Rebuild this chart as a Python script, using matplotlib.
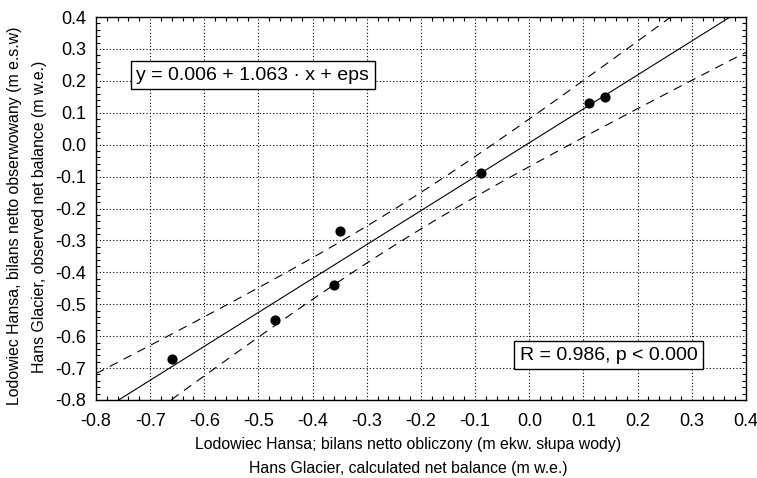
import numpy as np
import matplotlib
matplotlib.use("Agg")
import matplotlib.pyplot as plt
from matplotlib.ticker import MultipleLocator

# Data
calc = [-0.66, -0.47, -0.36, -0.35, -0.09, 0.11, 0.14]
obs = [-0.672, -0.549, -0.440, -0.270, -0.088, 0.132, 0.150]
intercept = 0.006
slope = 1.063
t_crit = 2.571  # 95% two-sided, df = 5

xticks = [-0.8, -0.7, -0.6, -0.5, -0.4, -0.3, -0.2, -0.1, 0.0, 0.1, 0.2, 0.3, 0.4]
yticks = [-0.8, -0.7, -0.6, -0.5, -0.4, -0.3, -0.2, -0.1, 0.0, 0.1, 0.2, 0.3, 0.4]

plt.rcParams['font.family'] = ['Liberation Sans', 'DejaVu Sans']

fig = plt.figure(figsize=(7.57, 4.78), dpi=100)
ax = fig.add_axes([96/757, 1 - 400/478, 650/757, 383/478])

x = np.array(calc)
y = np.array(obs)
n = len(x)
resid = y - (intercept + slope * x)
s = np.sqrt(np.sum(resid**2) / (n - 2))
xm = x.mean()
sxx = np.sum((x - xm)**2)
xx = np.linspace(-0.8, 0.4, 200)
yy = intercept + slope * xx
hw = t_crit * s * np.sqrt(1 / n + (xx - xm)**2 / sxx)

ax.plot(xx, yy, color='black', lw=0.8)
ax.plot(xx, yy + hw, color='black', lw=0.8, ls=(0, (8, 6)))
ax.plot(xx, yy - hw, color='black', lw=0.8, ls=(0, (8, 6)))
ax.scatter(x, y, s=40, color='black', zorder=5)

ax.set_xlim(-0.8, 0.4)
ax.set_ylim(-0.8, 0.4)
ax.set_xticks(xticks)
ax.set_yticks(yticks)
ax.set_xticklabels([f"{v:.1f}" for v in xticks])
ax.set_yticklabels([f"{v:.1f}" for v in yticks])
ax.xaxis.set_minor_locator(MultipleLocator(0.02))
ax.yaxis.set_minor_locator(MultipleLocator(0.02))
ax.tick_params(which='both', direction='in', top=True, right=True, labelsize=13, color='black')
ax.tick_params(which='major', length=0)
ax.tick_params(axis='y', which='major', pad=7)
ax.tick_params(axis='x', which='major', pad=9)
ax.tick_params(which='minor', length=3, width=0.8)
ax.grid(True, which='major', color='black', ls=(0, (1, 2)), lw=0.8)
for sp in ax.spines.values():
    sp.set_linewidth(1.0)

ax.text(0.062, 0.848, "y = 0.006 + 1.063 · x + eps", transform=ax.transAxes,
        fontsize=14, va='center', ha='left',
        bbox=dict(boxstyle='square,pad=0.28', fc='white', ec='black', lw=1))
ax.text(0.652, 0.117, "R = 0.986, p < 0.000", transform=ax.transAxes,
        fontsize=14, va='center', ha='left',
        bbox=dict(boxstyle='square,pad=0.28', fc='white', ec='black', lw=1))

fig.text(408/757, 1 - 445/478, "Lodowiec Hansa; bilans netto obliczony (m ekw. słupa wody)",
         ha='center', va='center', fontsize=11.4)
fig.text(408/757, 1 - 468/478, "Hans Glacier, calculated net balance (m w.e.)",
         ha='center', va='center', fontsize=11.4)
fig.text(15/757, 1 - 216/478, "Lodowiec Hansa, bilans netto obserwowany (m e.s.w)",
         ha='center', va='center', fontsize=11.4, rotation=90)
fig.text(40/757, 1 - 217/478, "Hans Glacier, observed net balance (m w.e.)",
         ha='center', va='center', fontsize=11.4, rotation=90)

fig.savefig("out.png", dpi=100)
